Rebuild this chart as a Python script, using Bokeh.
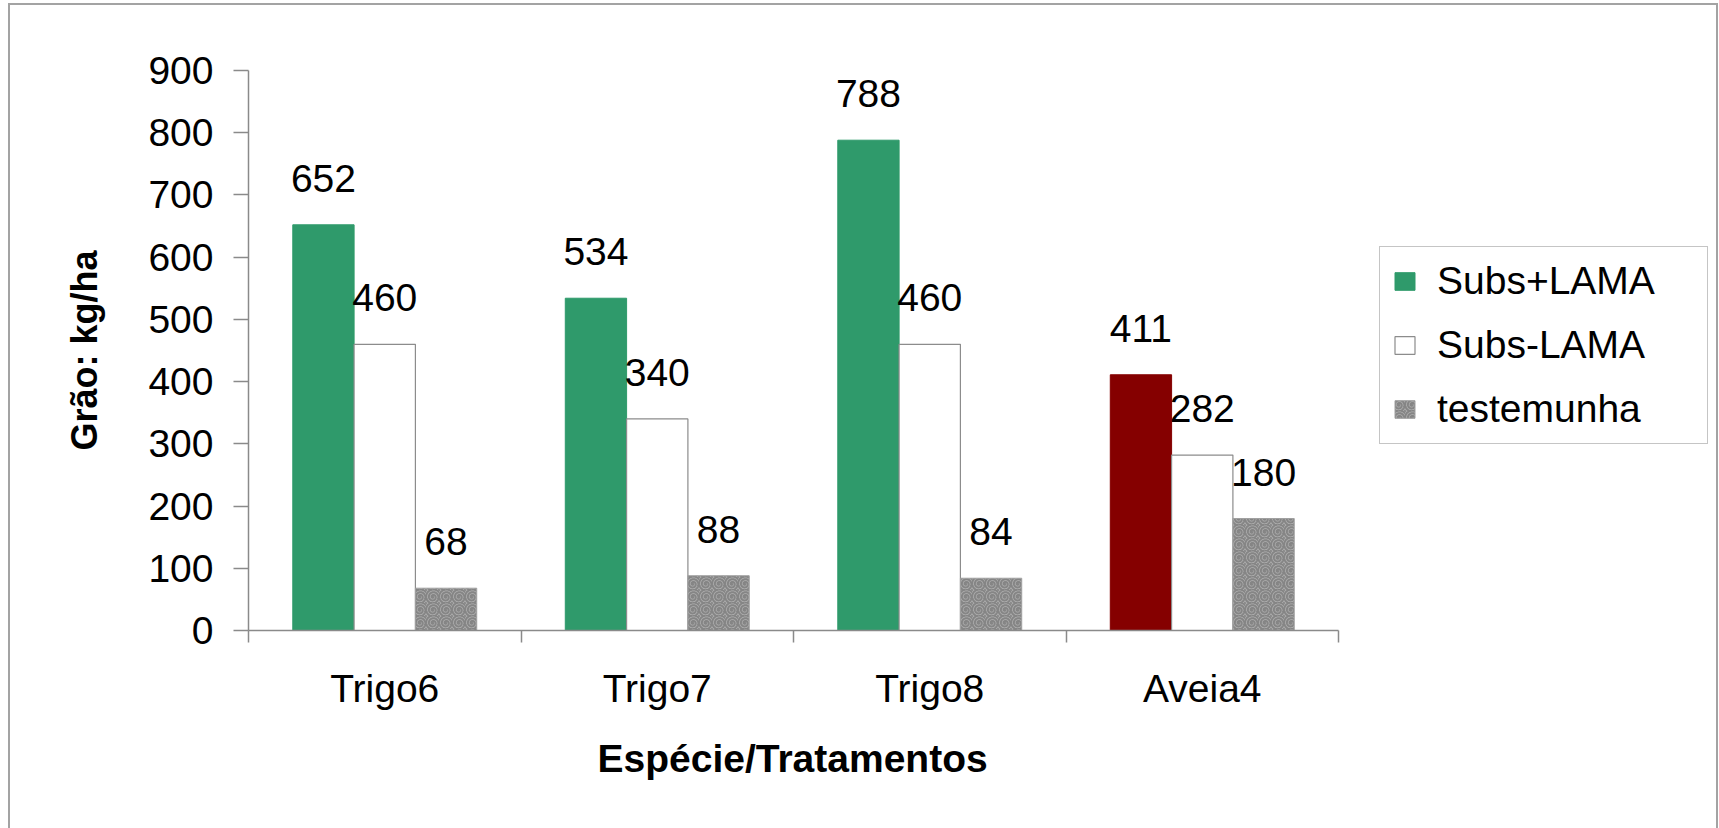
from bokeh.plotting import figure
from bokeh.models import (ColumnDataSource, Range1d, FixedTicker, Legend, LegendItem,
                          LabelSet, Title)
from bokeh.core.properties import value
from bokeh.embed import file_html
from bokeh.resources import INLINE

# ---- data -------------------------------------------------------------
categories = ["Trigo6", "Trigo7", "Trigo8", "Aveia4"]
series_names = ["Subs+LAMA", "Subs-LAMA", "testemunha"]
subs_mais_lama = [652, 534, 788, 411]
subs_menos_lama = [460, 340, 460, 282]
testemunha = [68, 88, 84, 180]
y_ticks = [0, 100, 200, 300, 400, 500, 600, 700, 800, 900]

# ---- layout / styling -------------------------------------------------
FONT = "Liberation Sans"
GREEN = "#2f9a6b"
RED = "#850000"
AXIS_GRAY = "#8a8a8a"
BAR_W = 0.225
offsets = [-BAR_W, 0.0, BAR_W]

W, H = 1706, 823
LEFT, TOP, BOTTOM = 238, 65, 198
CAT_PX = 272.5                      # pixel width of one category slot
frame_w = W - LEFT
n = len(categories)
x_start = -0.5
x_end = x_start + frame_w / CAT_PX  # plot area continues under the legend

p = figure(width=W, height=H,
           x_range=Range1d(x_start, x_end), y_range=Range1d(0, 900),
           output_backend="svg", toolbar_location=None,
           min_border_left=LEFT, min_border_right=0,
           min_border_top=TOP, min_border_bottom=BOTTOM)
# thin grey frame around the whole chart
p.margin = (5, 3, 0, 10)
p.styles = {"outline": "2.5px solid #a3a3a3"}
p.outline_line_color = None
p.xgrid.visible = False
p.ygrid.visible = False
p.background_fill_color = "white"
p.border_fill_color = "white"

# ---- bars -------------------------------------------------------------
first_colors = [GREEN, GREEN, GREEN, RED]
series_values = [subs_mais_lama, subs_menos_lama, testemunha]
renderers = []
for k, vals in enumerate(series_values):
    src = ColumnDataSource(dict(
        x=[i + offsets[k] for i in range(n)],
        top=vals,
        label=[str(v) for v in vals],
    ))
    if k == 0:
        src.data["color"] = first_colors
        r = p.vbar(x="x", top="top", width=BAR_W, source=src,
                   fill_color="color", line_color="color", line_width=1)
    elif k == 1:
        r = p.vbar(x="x", top="top", width=BAR_W, source=src,
                   fill_color="white", line_color="#8c8c8c", line_width=1.2)
    else:
        r = p.vbar(x="x", top="top", width=BAR_W, source=src,
                   fill_color="#b0b0b0", line_color="#a0a0a0", line_width=1,
                   hatch_pattern="spiral", hatch_color="#5a5a5a",
                   hatch_alpha=0.5, hatch_scale=13, hatch_weight=2)
    renderers.append(r)
    p.add_layout(LabelSet(x="x", y="top", text="label", source=src,
                          y_offset=33, text_align="center",
                          text_baseline="alphabetic",
                          text_font=value(FONT), text_font_size="39px",
                          text_color="black"))

# ---- axes -------------------------------------------------------------
xa = p.xaxis[0]
xa.bounds = (x_start, x_start + n)
xa.ticker = FixedTicker(ticks=list(range(n)),
                        minor_ticks=[i - 0.5 for i in range(n + 1)])
xa.major_label_overrides = {i: c for i, c in enumerate(categories)}
xa.major_tick_out = 0
xa.major_tick_in = 0
xa.minor_tick_out = 12
xa.minor_tick_in = 0
xa.minor_tick_line_color = AXIS_GRAY
xa.minor_tick_line_width = 1.5
xa.axis_line_color = AXIS_GRAY
xa.axis_line_width = 1.5
xa.major_label_text_font = FONT
xa.major_label_text_font_size = "39px"
xa.major_label_text_color = "black"
xa.major_label_standoff = 24

# x-axis title, centred under the bounded category axis
x_title = "Espécie/Tratamentos"
x_title_px = 392                     # approx. rendered width of the title
p.add_layout(Title(text=x_title, align="left",
                   offset=n * CAT_PX / 2 - x_title_px / 2,
                   text_font=FONT, text_font_style="bold",
                   text_font_size="39px", text_color="black",
                   standoff=44), "below")

ya = p.yaxis[0]
ya.ticker = FixedTicker(ticks=y_ticks, minor_ticks=[])
ya.major_tick_out = 15
ya.major_tick_in = 0
ya.major_tick_line_color = AXIS_GRAY
ya.major_tick_line_width = 1.5
ya.axis_line_color = AXIS_GRAY
ya.axis_line_width = 1.5
ya.major_label_text_font = FONT
ya.major_label_text_font_size = "39px"
ya.major_label_text_color = "black"
ya.major_label_standoff = 20
ya.axis_label = "Grão: kg/ha"
ya.axis_label_text_font = FONT
ya.axis_label_text_font_style = "bold"
ya.axis_label_text_font_size = "36px"
ya.axis_label_text_color = "black"
ya.axis_label_standoff = 40

# ---- legend -----------------------------------------------------------
legend = Legend(items=[LegendItem(label=s, renderers=[r], index=0)
                       for s, r in zip(series_names, renderers)],
                location=(1131, 186), orientation="vertical",
                label_text_font=FONT, label_text_font_size="39px",
                label_text_color="black",
                glyph_width=25, glyph_height=22, label_standoff=20,
                label_width=258, spacing=20, padding=12, margin=0,
                border_line_color="#8c8c8c", border_line_width=1.5,
                background_fill_color="white", background_fill_alpha=1)
p.add_layout(legend)

open("out.html", "w").write(file_html(p, INLINE))
